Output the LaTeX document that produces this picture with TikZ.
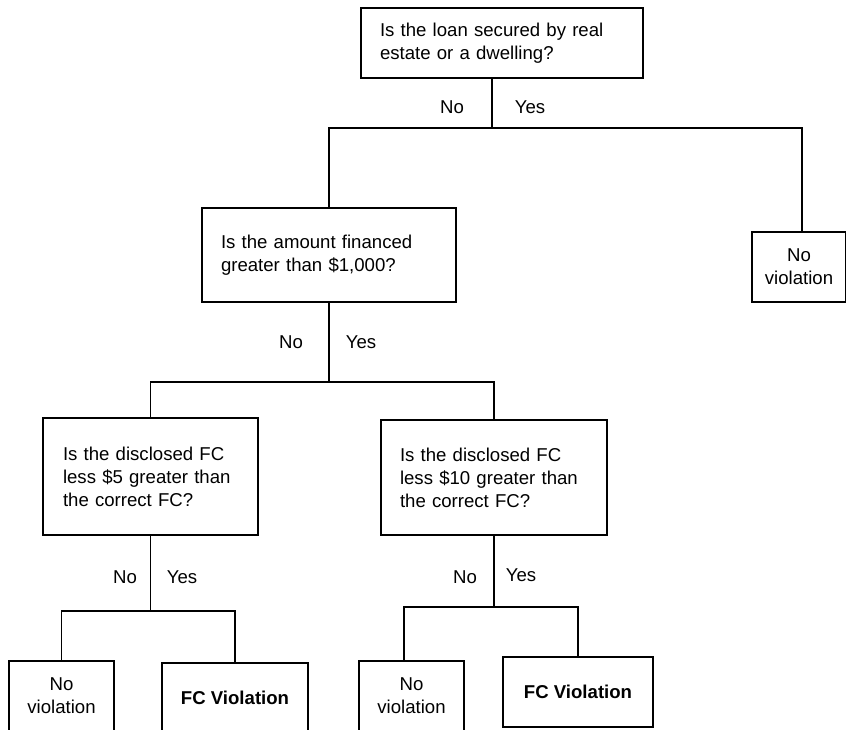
\documentclass[tikz,border=0pt]{standalone}
\usepackage{fontspec}
\setmainfont{Liberation Sans}
\begin{document}
\begin{tikzpicture}[x=1pt,y=-1pt,
  every node/.style={font=\fontsize{18.6}{23}\selectfont},
  qbox/.style={draw,line width=2pt,inner ysep=0pt,align=left},
  leaf/.style={draw,line width=2pt,inner sep=0pt,align=center,minimum height=70pt},
  conn/.style={line width=1.6pt},
  lbl/.style={inner sep=0pt}]
\clip (0,0) rectangle (846,729);
\fill[white] (0,0) rectangle (846,729);
% question boxes
\node[qbox,inner xsep=19pt,text width=244pt,minimum height=70pt] (q1) at (502,43)
  {Is the loan secured by real\\estate or a dwelling?};
\node[qbox,inner xsep=19pt,text width=216pt,minimum height=94pt] (q2) at (329,255)
  {Is the amount financed\\greater than \$1,000?};
\node[qbox,inner xsep=20pt,text width=175pt,minimum height=117pt] (q3) at (150.5,476.5)
  {Is the disclosed FC\\less \$5 greater than\\the correct FC?};
\node[qbox,inner xsep=19pt,text width=188pt,minimum height=115pt] (q4) at (494,477.5)
  {Is the disclosed FC\\less \$10 greater than\\the correct FC?};
% leaves
\node[leaf,minimum width=94pt] (nv1) at (799,267) {No\\violation};
\node[leaf,minimum width=105pt] (nv2) at (61.5,696) {No\\violation};
\node[leaf,minimum width=146pt,font=\fontsize{18.6}{23}\selectfont\bfseries] (fc1) at (235,698) {FC Violation};
\node[leaf,minimum width=105pt] (nv3) at (411.5,696) {No\\violation};
\node[leaf,minimum width=150pt,font=\fontsize{18.6}{23}\selectfont\bfseries] (fc2) at (578,692) {FC Violation};
% junctions
\coordinate (j1) at (492,128);
\coordinate (j2) at (329,382);
\coordinate (j3) at (150.5,611);
\coordinate (j4) at (494,607);
% connectors
\draw[conn] (q1.south -| j1) -- (j1);
\draw[conn] (q2.north) |- (j1);
\draw[conn] (j1) -| ([xshift=3pt]nv1.north);
\draw[conn] (q2.south) -- (j2);
\draw[conn] (q3.north) |- (j2);
\draw[conn] (j2) -| (q4.north);
\draw[conn] (q3.south) -- (j3);
\draw[conn] (nv2.north) |- (j3);
\draw[conn] (j3) -| (fc1.north);
\draw[conn] (q4.south) -- (j4);
\draw[conn] ([xshift=-7.5pt]nv3.north) |- (j4);
\draw[conn] (j4) -| (fc2.north);
% labels
\node[lbl] (n1) at (452,107) {No};
\node[lbl] (y1) at (530,107) {Yes};
\node[lbl] (n2) at (291,342) {No};
\node[lbl] (y2) at (361,342) {Yes};
\node[lbl] (n3) at (125,577) {No};
\node[lbl] (y3) at (182,577) {Yes};
\node[lbl] (n4) at (465,577) {No};
\node[lbl] (y4) at (521,575) {Yes};
\end{tikzpicture}
\end{document}
